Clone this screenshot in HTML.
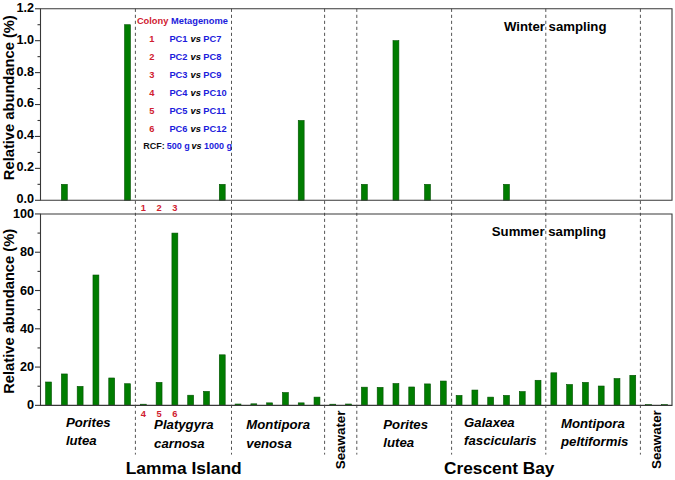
<!DOCTYPE html>
<html><head><meta charset="utf-8"><style>
html,body{margin:0;padding:0;background:#fff;}
body{width:675px;height:480px;overflow:hidden;font-family:"Liberation Sans", sans-serif;}
svg{display:block;}
</style></head><body>
<svg width="675" height="480" viewBox="0 0 675 480">
<rect width="675" height="480" fill="#fff"/>
<line x1="135.4" y1="8.75" x2="135.4" y2="454.6" stroke="#555" stroke-width="1" stroke-dasharray="3.2 2.8"/>
<line x1="231.5" y1="8.75" x2="231.5" y2="454.6" stroke="#555" stroke-width="1" stroke-dasharray="3.2 2.8"/>
<line x1="324.6" y1="8.75" x2="324.6" y2="454.6" stroke="#555" stroke-width="1" stroke-dasharray="3.2 2.8"/>
<line x1="356.8" y1="8.75" x2="356.8" y2="454.6" stroke="#555" stroke-width="1" stroke-dasharray="3.2 2.8"/>
<line x1="451.6" y1="8.75" x2="451.6" y2="454.6" stroke="#555" stroke-width="1" stroke-dasharray="3.2 2.8"/>
<line x1="545.8" y1="8.75" x2="545.8" y2="454.6" stroke="#555" stroke-width="1" stroke-dasharray="3.2 2.8"/>
<line x1="640.4" y1="8.75" x2="640.4" y2="454.6" stroke="#555" stroke-width="1" stroke-dasharray="3.2 2.8"/>
<rect x="45.60" y="382.00" width="5.9" height="23.35" fill="#007d00" stroke="#005000" stroke-width="0.6"/>
<rect x="61.39" y="373.96" width="5.9" height="31.39" fill="#007d00" stroke="#005000" stroke-width="0.6"/>
<rect x="77.18" y="386.40" width="5.9" height="18.95" fill="#007d00" stroke="#005000" stroke-width="0.6"/>
<rect x="92.97" y="275.01" width="5.9" height="130.34" fill="#007d00" stroke="#005000" stroke-width="0.6"/>
<rect x="108.76" y="377.98" width="5.9" height="27.37" fill="#007d00" stroke="#005000" stroke-width="0.6"/>
<rect x="124.55" y="383.72" width="5.9" height="21.63" fill="#007d00" stroke="#005000" stroke-width="0.6"/>
<rect x="140.34" y="404.20" width="5.9" height="1.15" fill="#007d00" stroke="#005000" stroke-width="0.6"/>
<rect x="156.13" y="382.38" width="5.9" height="22.97" fill="#007d00" stroke="#005000" stroke-width="0.6"/>
<rect x="171.92" y="233.09" width="5.9" height="172.26" fill="#007d00" stroke="#005000" stroke-width="0.6"/>
<rect x="187.71" y="395.21" width="5.9" height="10.14" fill="#007d00" stroke="#005000" stroke-width="0.6"/>
<rect x="203.50" y="391.38" width="5.9" height="13.97" fill="#007d00" stroke="#005000" stroke-width="0.6"/>
<rect x="219.29" y="354.82" width="5.9" height="50.53" fill="#007d00" stroke="#005000" stroke-width="0.6"/>
<rect x="235.08" y="404.01" width="5.9" height="1.34" fill="#007d00" stroke="#005000" stroke-width="0.6"/>
<rect x="250.87" y="403.82" width="5.9" height="1.53" fill="#007d00" stroke="#005000" stroke-width="0.6"/>
<rect x="266.66" y="402.86" width="5.9" height="2.49" fill="#007d00" stroke="#005000" stroke-width="0.6"/>
<rect x="282.45" y="392.53" width="5.9" height="12.82" fill="#007d00" stroke="#005000" stroke-width="0.6"/>
<rect x="298.24" y="402.86" width="5.9" height="2.49" fill="#007d00" stroke="#005000" stroke-width="0.6"/>
<rect x="314.03" y="397.12" width="5.9" height="8.23" fill="#007d00" stroke="#005000" stroke-width="0.6"/>
<rect x="329.82" y="404.20" width="5.9" height="1.15" fill="#007d00" stroke="#005000" stroke-width="0.6"/>
<rect x="345.61" y="404.01" width="5.9" height="1.34" fill="#007d00" stroke="#005000" stroke-width="0.6"/>
<rect x="361.40" y="387.17" width="5.9" height="18.18" fill="#007d00" stroke="#005000" stroke-width="0.6"/>
<rect x="377.19" y="387.36" width="5.9" height="17.99" fill="#007d00" stroke="#005000" stroke-width="0.6"/>
<rect x="392.98" y="383.53" width="5.9" height="21.82" fill="#007d00" stroke="#005000" stroke-width="0.6"/>
<rect x="408.77" y="386.98" width="5.9" height="18.37" fill="#007d00" stroke="#005000" stroke-width="0.6"/>
<rect x="424.56" y="383.91" width="5.9" height="21.44" fill="#007d00" stroke="#005000" stroke-width="0.6"/>
<rect x="440.35" y="381.04" width="5.9" height="24.31" fill="#007d00" stroke="#005000" stroke-width="0.6"/>
<rect x="456.14" y="395.40" width="5.9" height="9.95" fill="#007d00" stroke="#005000" stroke-width="0.6"/>
<rect x="471.93" y="390.04" width="5.9" height="15.31" fill="#007d00" stroke="#005000" stroke-width="0.6"/>
<rect x="487.72" y="397.12" width="5.9" height="8.23" fill="#007d00" stroke="#005000" stroke-width="0.6"/>
<rect x="503.51" y="395.40" width="5.9" height="9.95" fill="#007d00" stroke="#005000" stroke-width="0.6"/>
<rect x="519.30" y="391.57" width="5.9" height="13.78" fill="#007d00" stroke="#005000" stroke-width="0.6"/>
<rect x="535.09" y="380.28" width="5.9" height="25.07" fill="#007d00" stroke="#005000" stroke-width="0.6"/>
<rect x="550.88" y="372.81" width="5.9" height="32.54" fill="#007d00" stroke="#005000" stroke-width="0.6"/>
<rect x="566.67" y="384.49" width="5.9" height="20.86" fill="#007d00" stroke="#005000" stroke-width="0.6"/>
<rect x="582.46" y="382.38" width="5.9" height="22.97" fill="#007d00" stroke="#005000" stroke-width="0.6"/>
<rect x="598.25" y="386.02" width="5.9" height="19.33" fill="#007d00" stroke="#005000" stroke-width="0.6"/>
<rect x="614.04" y="378.55" width="5.9" height="26.80" fill="#007d00" stroke="#005000" stroke-width="0.6"/>
<rect x="629.83" y="375.30" width="5.9" height="30.05" fill="#007d00" stroke="#005000" stroke-width="0.6"/>
<rect x="645.62" y="404.58" width="5.9" height="0.77" fill="#007d00" stroke="#005000" stroke-width="0.6"/>
<rect x="661.41" y="404.58" width="5.9" height="0.77" fill="#007d00" stroke="#005000" stroke-width="0.6"/>
<rect x="61.39" y="184.34" width="5.9" height="15.96" fill="#007d00" stroke="#005000" stroke-width="0.6"/>
<rect x="124.55" y="24.71" width="5.9" height="175.59" fill="#007d00" stroke="#005000" stroke-width="0.6"/>
<rect x="219.29" y="184.34" width="5.9" height="15.96" fill="#007d00" stroke="#005000" stroke-width="0.6"/>
<rect x="298.24" y="120.49" width="5.9" height="79.81" fill="#007d00" stroke="#005000" stroke-width="0.6"/>
<rect x="361.40" y="184.34" width="5.9" height="15.96" fill="#007d00" stroke="#005000" stroke-width="0.6"/>
<rect x="392.98" y="40.67" width="5.9" height="159.63" fill="#007d00" stroke="#005000" stroke-width="0.6"/>
<rect x="424.56" y="184.34" width="5.9" height="15.96" fill="#007d00" stroke="#005000" stroke-width="0.6"/>
<rect x="503.51" y="184.34" width="5.9" height="15.96" fill="#007d00" stroke="#005000" stroke-width="0.6"/>
<path d="M40.5 8.75 H672.0 V200.3 H40.5 Z" fill="none" stroke="#383838" stroke-width="1.1"/>
<path d="M40.5 213.95 H672.0 V405.35 H40.5 Z" fill="none" stroke="#383838" stroke-width="1.1"/>
<line x1="35.0" y1="200.30" x2="40.5" y2="200.30" stroke="#383838" stroke-width="1.1"/>
<text transform="translate(34.1 203.20) scale(0.93 1)" font-family="Liberation Sans, sans-serif" font-size="13.6" font-weight="bold" text-anchor="end">0.0</text>
<line x1="37.5" y1="184.34" x2="40.5" y2="184.34" stroke="#383838" stroke-width="1.1"/>
<line x1="35.0" y1="168.38" x2="40.5" y2="168.38" stroke="#383838" stroke-width="1.1"/>
<text transform="translate(34.1 171.28) scale(0.93 1)" font-family="Liberation Sans, sans-serif" font-size="13.6" font-weight="bold" text-anchor="end">0.2</text>
<line x1="37.5" y1="152.41" x2="40.5" y2="152.41" stroke="#383838" stroke-width="1.1"/>
<line x1="35.0" y1="136.45" x2="40.5" y2="136.45" stroke="#383838" stroke-width="1.1"/>
<text transform="translate(34.1 139.35) scale(0.93 1)" font-family="Liberation Sans, sans-serif" font-size="13.6" font-weight="bold" text-anchor="end">0.4</text>
<line x1="37.5" y1="120.49" x2="40.5" y2="120.49" stroke="#383838" stroke-width="1.1"/>
<line x1="35.0" y1="104.52" x2="40.5" y2="104.52" stroke="#383838" stroke-width="1.1"/>
<text transform="translate(34.1 107.42) scale(0.93 1)" font-family="Liberation Sans, sans-serif" font-size="13.6" font-weight="bold" text-anchor="end">0.6</text>
<line x1="37.5" y1="88.56" x2="40.5" y2="88.56" stroke="#383838" stroke-width="1.1"/>
<line x1="35.0" y1="72.60" x2="40.5" y2="72.60" stroke="#383838" stroke-width="1.1"/>
<text transform="translate(34.1 75.50) scale(0.93 1)" font-family="Liberation Sans, sans-serif" font-size="13.6" font-weight="bold" text-anchor="end">0.8</text>
<line x1="37.5" y1="56.64" x2="40.5" y2="56.64" stroke="#383838" stroke-width="1.1"/>
<line x1="35.0" y1="40.67" x2="40.5" y2="40.67" stroke="#383838" stroke-width="1.1"/>
<text transform="translate(34.1 43.57) scale(0.93 1)" font-family="Liberation Sans, sans-serif" font-size="13.6" font-weight="bold" text-anchor="end">1.0</text>
<line x1="37.5" y1="24.71" x2="40.5" y2="24.71" stroke="#383838" stroke-width="1.1"/>
<line x1="35.0" y1="8.75" x2="40.5" y2="8.75" stroke="#383838" stroke-width="1.1"/>
<text transform="translate(34.1 11.65) scale(0.93 1)" font-family="Liberation Sans, sans-serif" font-size="13.6" font-weight="bold" text-anchor="end">1.2</text>
<line x1="35.0" y1="405.35" x2="40.5" y2="405.35" stroke="#383838" stroke-width="1.1"/>
<text transform="translate(34.1 409.45) scale(0.93 1)" font-family="Liberation Sans, sans-serif" font-size="13.6" font-weight="bold" text-anchor="end">0</text>
<line x1="37.5" y1="386.21" x2="40.5" y2="386.21" stroke="#383838" stroke-width="1.1"/>
<line x1="35.0" y1="367.07" x2="40.5" y2="367.07" stroke="#383838" stroke-width="1.1"/>
<text transform="translate(34.1 371.17) scale(0.93 1)" font-family="Liberation Sans, sans-serif" font-size="13.6" font-weight="bold" text-anchor="end">20</text>
<line x1="37.5" y1="347.93" x2="40.5" y2="347.93" stroke="#383838" stroke-width="1.1"/>
<line x1="35.0" y1="328.79" x2="40.5" y2="328.79" stroke="#383838" stroke-width="1.1"/>
<text transform="translate(34.1 332.89) scale(0.93 1)" font-family="Liberation Sans, sans-serif" font-size="13.6" font-weight="bold" text-anchor="end">40</text>
<line x1="37.5" y1="309.65" x2="40.5" y2="309.65" stroke="#383838" stroke-width="1.1"/>
<line x1="35.0" y1="290.51" x2="40.5" y2="290.51" stroke="#383838" stroke-width="1.1"/>
<text transform="translate(34.1 294.61) scale(0.93 1)" font-family="Liberation Sans, sans-serif" font-size="13.6" font-weight="bold" text-anchor="end">60</text>
<line x1="37.5" y1="271.37" x2="40.5" y2="271.37" stroke="#383838" stroke-width="1.1"/>
<line x1="35.0" y1="252.23" x2="40.5" y2="252.23" stroke="#383838" stroke-width="1.1"/>
<text transform="translate(34.1 256.33) scale(0.93 1)" font-family="Liberation Sans, sans-serif" font-size="13.6" font-weight="bold" text-anchor="end">80</text>
<line x1="37.5" y1="233.09" x2="40.5" y2="233.09" stroke="#383838" stroke-width="1.1"/>
<line x1="35.0" y1="213.95" x2="40.5" y2="213.95" stroke="#383838" stroke-width="1.1"/>
<text transform="translate(34.1 218.05) scale(0.93 1)" font-family="Liberation Sans, sans-serif" font-size="13.6" font-weight="bold" text-anchor="end">100</text>
<text transform="translate(13.6 97.7) rotate(-90)" font-family="Liberation Sans, sans-serif" font-size="14.7" font-weight="bold" text-anchor="middle">Relative abundance (%)</text>
<text transform="translate(13.6 311.3) rotate(-90)" font-family="Liberation Sans, sans-serif" font-size="14.7" font-weight="bold" text-anchor="middle">Relative abundance (%)</text>
<text x="504" y="30.6" font-family="Liberation Sans, sans-serif" font-size="13.2" font-weight="bold">Winter sampling</text>
<text x="491.8" y="235.7" font-family="Liberation Sans, sans-serif" font-size="13.2" font-weight="bold">Summer sampling</text>
<text x="136.9" y="23.8" font-family="Liberation Sans, sans-serif" font-size="9.3" font-weight="bold" fill="#d02030">Colony</text>
<text x="171.1" y="23.8" font-family="Liberation Sans, sans-serif" font-size="9.3" font-weight="bold" fill="#1c1cdc">Metagenome</text>
<text x="151.8" y="41.60" font-family="Liberation Sans, sans-serif" font-size="9.3" font-weight="bold" fill="#d02030" text-anchor="middle">1</text>
<text x="169.4" y="41.60" font-family="Liberation Sans, sans-serif" font-size="9.3" font-weight="bold" fill="#1c1cdc">PC1</text>
<text x="190.6" y="41.60" font-family="Liberation Sans, sans-serif" font-size="9.3" font-weight="bold" font-style="italic" fill="#000">vs</text>
<text x="203.3" y="41.60" font-family="Liberation Sans, sans-serif" font-size="9.3" font-weight="bold" fill="#1c1cdc">PC7</text>
<text x="151.8" y="59.75" font-family="Liberation Sans, sans-serif" font-size="9.3" font-weight="bold" fill="#d02030" text-anchor="middle">2</text>
<text x="169.4" y="59.75" font-family="Liberation Sans, sans-serif" font-size="9.3" font-weight="bold" fill="#1c1cdc">PC2</text>
<text x="190.6" y="59.75" font-family="Liberation Sans, sans-serif" font-size="9.3" font-weight="bold" font-style="italic" fill="#000">vs</text>
<text x="203.3" y="59.75" font-family="Liberation Sans, sans-serif" font-size="9.3" font-weight="bold" fill="#1c1cdc">PC8</text>
<text x="151.8" y="77.90" font-family="Liberation Sans, sans-serif" font-size="9.3" font-weight="bold" fill="#d02030" text-anchor="middle">3</text>
<text x="169.4" y="77.90" font-family="Liberation Sans, sans-serif" font-size="9.3" font-weight="bold" fill="#1c1cdc">PC3</text>
<text x="190.6" y="77.90" font-family="Liberation Sans, sans-serif" font-size="9.3" font-weight="bold" font-style="italic" fill="#000">vs</text>
<text x="203.3" y="77.90" font-family="Liberation Sans, sans-serif" font-size="9.3" font-weight="bold" fill="#1c1cdc">PC9</text>
<text x="151.8" y="96.05" font-family="Liberation Sans, sans-serif" font-size="9.3" font-weight="bold" fill="#d02030" text-anchor="middle">4</text>
<text x="169.4" y="96.05" font-family="Liberation Sans, sans-serif" font-size="9.3" font-weight="bold" fill="#1c1cdc">PC4</text>
<text x="190.6" y="96.05" font-family="Liberation Sans, sans-serif" font-size="9.3" font-weight="bold" font-style="italic" fill="#000">vs</text>
<text x="203.3" y="96.05" font-family="Liberation Sans, sans-serif" font-size="9.3" font-weight="bold" fill="#1c1cdc">PC10</text>
<text x="151.8" y="114.20" font-family="Liberation Sans, sans-serif" font-size="9.3" font-weight="bold" fill="#d02030" text-anchor="middle">5</text>
<text x="169.4" y="114.20" font-family="Liberation Sans, sans-serif" font-size="9.3" font-weight="bold" fill="#1c1cdc">PC5</text>
<text x="190.6" y="114.20" font-family="Liberation Sans, sans-serif" font-size="9.3" font-weight="bold" font-style="italic" fill="#000">vs</text>
<text x="203.3" y="114.20" font-family="Liberation Sans, sans-serif" font-size="9.3" font-weight="bold" fill="#1c1cdc">PC11</text>
<text x="151.8" y="132.35" font-family="Liberation Sans, sans-serif" font-size="9.3" font-weight="bold" fill="#d02030" text-anchor="middle">6</text>
<text x="169.4" y="132.35" font-family="Liberation Sans, sans-serif" font-size="9.3" font-weight="bold" fill="#1c1cdc">PC6</text>
<text x="190.6" y="132.35" font-family="Liberation Sans, sans-serif" font-size="9.3" font-weight="bold" font-style="italic" fill="#000">vs</text>
<text x="203.3" y="132.35" font-family="Liberation Sans, sans-serif" font-size="9.3" font-weight="bold" fill="#1c1cdc">PC12</text>
<text x="143.2" y="149.4" font-family="Liberation Sans, sans-serif" font-size="9.0" font-weight="bold" fill="#111">RCF:</text>
<text x="166.8" y="149.4" font-family="Liberation Sans, sans-serif" font-size="9.0" font-weight="bold" fill="#1c1cdc">500 g</text>
<text x="191.6" y="149.4" font-family="Liberation Sans, sans-serif" font-size="9.0" font-weight="bold" font-style="italic" fill="#000">vs</text>
<text x="204.0" y="149.4" font-family="Liberation Sans, sans-serif" font-size="9.0" font-weight="bold" fill="#1c1cdc">1000 g</text>
<text x="143.29" y="210.8" font-family="Liberation Sans, sans-serif" font-size="9.3" font-weight="bold" fill="#d02030" text-anchor="middle">1</text>
<text x="159.08" y="210.8" font-family="Liberation Sans, sans-serif" font-size="9.3" font-weight="bold" fill="#d02030" text-anchor="middle">2</text>
<text x="174.87" y="210.8" font-family="Liberation Sans, sans-serif" font-size="9.3" font-weight="bold" fill="#d02030" text-anchor="middle">3</text>
<text x="143.29" y="416.6" font-family="Liberation Sans, sans-serif" font-size="9.3" font-weight="bold" fill="#d02030" text-anchor="middle">4</text>
<text x="159.08" y="416.6" font-family="Liberation Sans, sans-serif" font-size="9.3" font-weight="bold" fill="#d02030" text-anchor="middle">5</text>
<text x="174.87" y="416.6" font-family="Liberation Sans, sans-serif" font-size="9.3" font-weight="bold" fill="#d02030" text-anchor="middle">6</text>
<text x="65.9" y="426.7" font-family="Liberation Sans, sans-serif" font-size="13.2" font-weight="bold" font-style="italic">Porites</text>
<text x="65.9" y="445.3" font-family="Liberation Sans, sans-serif" font-size="13.2" font-weight="bold" font-style="italic">lutea</text>
<text x="154.1" y="429.0" font-family="Liberation Sans, sans-serif" font-size="13.2" font-weight="bold" font-style="italic">Platygyra</text>
<text x="154.1" y="447.9" font-family="Liberation Sans, sans-serif" font-size="13.2" font-weight="bold" font-style="italic">carnosa</text>
<text x="246.3" y="429.0" font-family="Liberation Sans, sans-serif" font-size="13.2" font-weight="bold" font-style="italic">Montipora</text>
<text x="246.3" y="447.7" font-family="Liberation Sans, sans-serif" font-size="13.2" font-weight="bold" font-style="italic">venosa</text>
<text x="383.3" y="428.7" font-family="Liberation Sans, sans-serif" font-size="13.2" font-weight="bold" font-style="italic">Porites</text>
<text x="383.3" y="447.0" font-family="Liberation Sans, sans-serif" font-size="13.2" font-weight="bold" font-style="italic">lutea</text>
<text x="464.1" y="427.0" font-family="Liberation Sans, sans-serif" font-size="13.2" font-weight="bold" font-style="italic">Galaxea</text>
<text x="464.1" y="445.0" font-family="Liberation Sans, sans-serif" font-size="13.2" font-weight="bold" font-style="italic">fascicularis</text>
<text x="561.0" y="427.8" font-family="Liberation Sans, sans-serif" font-size="13.2" font-weight="bold" font-style="italic">Montipora</text>
<text x="561.0" y="445.8" font-family="Liberation Sans, sans-serif" font-size="13.2" font-weight="bold" font-style="italic">peltiformis</text>
<text transform="translate(345.0 439.9) rotate(-90)" font-family="Liberation Sans, sans-serif" font-size="13.4" font-weight="bold" text-anchor="middle">Seawater</text>
<text transform="translate(661.4 439.6) rotate(-90)" font-family="Liberation Sans, sans-serif" font-size="13.4" font-weight="bold" text-anchor="middle">Seawater</text>
<text x="125.7" y="473.9" font-family="Liberation Sans, sans-serif" font-weight="bold" font-size="17.4">Lamma Island</text>
<text x="444.1" y="473.7" font-family="Liberation Sans, sans-serif" font-weight="bold" font-size="17.25">Crescent Bay</text>
</svg>
</body></html>
